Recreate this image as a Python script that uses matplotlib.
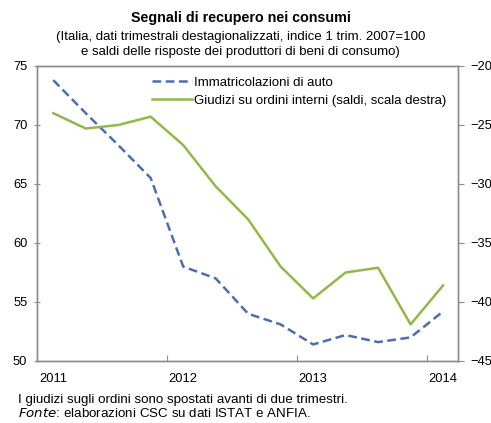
import matplotlib
matplotlib.use("Agg")
import matplotlib.pyplot as plt

plt.rcParams['font.family'] = ['Liberation Sans', 'DejaVu Sans']

# trimestri 2011Q1 .. 2014Q1 (posizionati a metà trimestre)
quarters = [2011.125 + 0.25 * i for i in range(13)]
immatricolazioni = [73.8, 71.0, 68.3, 65.5, 58.0, 57.0, 54.0, 53.1, 51.4, 52.2, 51.6, 52.0, 54.2]
giudizi = [-24.0, -25.3, -25.0, -24.3, -26.7, -30.2, -33.0, -37.0, -39.7, -37.5, -37.1, -41.9, -38.6]
years = [2011, 2012, 2013, 2014]
year_labels = ["2011", "2012", "2013", "2014"]
left_ticks = [50, 55, 60, 65, 70, 75]
right_ticks = [-45, -40, -35, -30, -25, -20]

blue = '#4a6db5'
green = '#93b84a'
gray = '#8c8c8c'

fig = plt.figure(figsize=(4.91, 4.23), dpi=100)
ax = fig.add_axes([0.0754, 0.1466, 0.8574, 0.6974])
ax2 = ax.twinx()

l1, = ax.plot(quarters, immatricolazioni, color=blue, linestyle=(0, (3.5, 1.8)), linewidth=1.8,
              label="Immatricolazioni di auto")
l2, = ax2.plot(quarters, giudizi, color=green, linewidth=1.8,
               label="Giudizi su ordini interni (saldi, scala destra)")

ax.set_xlim(2011, 2014.24)
ax.set_ylim(50, 75)
ax2.set_ylim(-45, -20)
# tacche ai confini d'anno, etichette sul primo trimestre
ax.set_xticks(years)
ax.set_xticklabels([])
ax.set_xticks([y + 0.125 for y in years], minor=True)
ax.set_xticklabels(year_labels, minor=True)
ax.set_yticks(left_ticks)
ax2.set_yticks(right_ticks)

for a in (ax, ax2):
    for s in a.spines.values():
        s.set_color(gray)
        s.set_linewidth(1.0)
ax.tick_params(axis='y', direction='inout', length=5, color=gray, labelsize=9.3, pad=4.5)
ax.tick_params(axis='x', which='major', direction='in', length=4, color=gray)
ax.tick_params(axis='x', which='minor', length=0, labelsize=9.3, pad=8.5)
ax2.tick_params(axis='y', direction='out', length=4, color=gray, labelsize=9.3, pad=4.6)

ax.legend(handles=[l1, l2], loc='upper right', frameon=False, fontsize=9.5,
          handlelength=3.0, handletextpad=0.15, labelspacing=0.4,
          bbox_to_anchor=(0.99, 0.99), borderaxespad=0.2)

fig.text(0.49, 0.957, "Segnali di recupero nei consumi", ha='center', va='center',
         fontsize=10.3, fontweight='bold')
fig.text(0.49, 0.913, "(Italia, dati trimestrali destagionalizzati, indice 1 trim. 2007=100",
         ha='center', va='center', fontsize=9.5)
fig.text(0.49, 0.877, "e saldi delle risposte dei produttori di beni di consumo)",
         ha='center', va='center', fontsize=9.5)

fig.text(0.036, 0.054, "I giudizi sugli ordini sono spostati avanti di due trimestri.",
         va='center', fontsize=9.6)
fig.text(0.036, 0.022, r"$\it{Fonte}$: elaborazioni CSC su dati ISTAT e ANFIA.",
         va='center', fontsize=9.6)

fig.savefig("out.png", dpi=100)
